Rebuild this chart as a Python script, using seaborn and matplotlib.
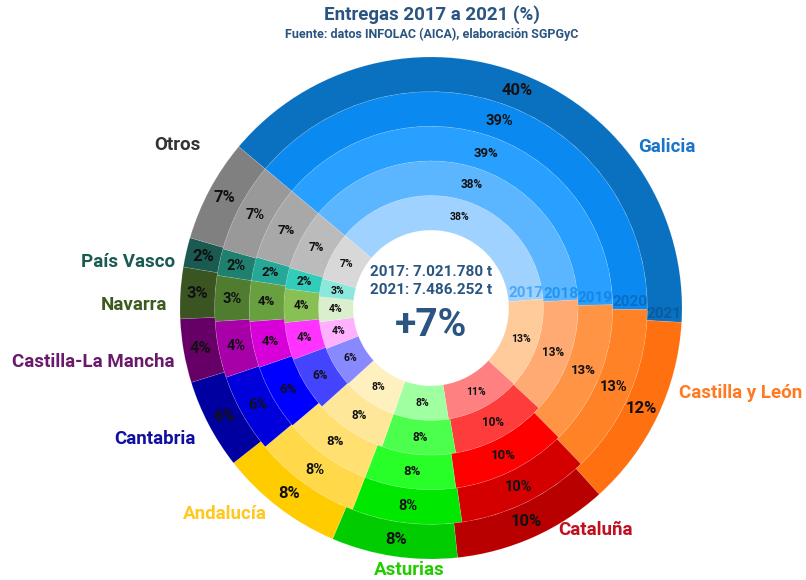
import numpy as np
import matplotlib
matplotlib.use("Agg")
import matplotlib.pyplot as plt
import seaborn as sns

# datos: cuota (%) de entregas por comunidad, anillos 2017 (interior) a 2021 (exterior)
years = ["2017", "2018", "2019", "2020", "2021"]
regions = ["Galicia", "Castilla y León", "Cataluña", "Asturias", "Andalucía",
           "Cantabria", "Castilla-La Mancha", "Navarra", "País Vasco", "Otros"]
share_2017 = [37.6, 13.1, 10.7, 7.9, 7.8, 5.9, 3.9, 3.6, 2.6, 6.9]
share_2018 = [38.0, 12.8, 10.4, 8.1, 7.9, 6.0, 4.1, 3.7, 2.3, 6.7]
share_2019 = [38.6, 12.9, 10.2, 8.1, 7.9, 5.9, 4.1, 3.6, 2.1, 6.6]
share_2020 = [39.0, 12.7, 9.9, 8.2, 8.0, 5.9, 4.2, 3.4, 2.0, 6.7]
share_2021 = [39.8, 12.4, 10.0, 8.1, 8.0, 5.8, 4.1, 3.3, 1.9, 6.6]
shares = [share_2017, share_2018, share_2019, share_2020, share_2021]
total_2017 = "7.021.780 t"
total_2021 = "7.486.252 t"
growth = "+7%"

# colores por comunidad (claro -> oscuro, del anillo interior al exterior)
shades = {
    "Galicia": ["#A0D2FF", "#5CB6FF", "#28A0FF", "#0A8AF0", "#0A70C0"],
    "Castilla y León": ["#FFCB9A", "#FFAA72", "#FF9444", "#FF8226", "#FF7010"],
    "Cataluña": ["#FF8080", "#FF3C3C", "#FF0000", "#D40000", "#B80000"],
    "Asturias": ["#A0FFA0", "#4CFF4C", "#28FF28", "#00E800", "#00CC00"],
    "Andalucía": ["#FFF0C0", "#FFE79A", "#FFE070", "#FFD94A", "#FFCC00"],
    "Cantabria": ["#8888FF", "#4444FF", "#0000FF", "#0000DC", "#0000A0"],
    "Castilla-La Mancha": ["#FFB0FF", "#FF33FF", "#D800D8", "#A800A8", "#660066"],
    "Navarra": ["#DCEFCC", "#88C055", "#68A040", "#507C30", "#3A5522"],
    "País Vasco": ["#8CE8DC", "#33CCB8", "#26A898", "#1F8070", "#1A5A50"],
    "Otros": ["#D8D8D8", "#BBBBBB", "#A8A8A8", "#999999", "#808080"],
}
label_colors = {
    "Galicia": "#1A75C8", "Castilla y León": "#FF7A20", "Cataluña": "#C01020",
    "Asturias": "#22CC00", "Andalucía": "#FFC820", "Cantabria": "#1010A0",
    "Castilla-La Mancha": "#6A1A6A", "Navarra": "#3D5A20", "País Vasco": "#1A5A50",
    "Otros": "#333333",
}
# posiciones de las etiquetas de comunidad (radio exterior = 1)
label_pos = {
    "Galicia": (0.94, 0.64), "Castilla y León": (1.235, -0.34), "Cataluña": (0.655, -0.885),
    "Asturias": (-0.085, -1.045), "Andalucía": (-0.82, -0.82), "Cantabria": (-1.10, -0.52),
    "Castilla-La Mancha": (-1.345, -0.215), "Navarra": (-1.185, 0.012),
    "País Vasco": (-1.205, 0.183), "Otros": (-1.01, 0.65),
}
year_label_colors = ["#4AA8F8", "#2096F0", "#1686E8", "#0A6CC4", "#0A5AA0"]

sns.set_theme(style="white")
font = ["Roboto", "DejaVu Sans"]
plt.rcParams["font.family"] = font
plt.rcParams["font.weight"] = "bold"
title_color = "#2A5580"

fig = plt.figure(figsize=(8.06, 5.80), dpi=100)
ax = fig.add_axes([0, 0, 1, 1])

inner = 0.31
width = (1 - inner) / len(years)
start = 140
pct_sizes = [7.5, 8.5, 9.5, 10.5, 12]

for i, vals in enumerate(shares):
    r_out = inner + width * (i + 1)
    r_mid = r_out - width / 2
    cols = [shades[reg][i] for reg in regions]
    ax.pie(vals, radius=r_out, colors=cols, startangle=start, counterclock=False,
           wedgeprops=dict(width=width, edgecolor=(1, 1, 1, 0.15), linewidth=0.5),
           autopct=lambda p: f"{p:.0f}%", pctdistance=r_mid / r_out,
           textprops=dict(fontsize=pct_sizes[i], fontweight="bold", color="#111111"))
    # etiqueta del año en el borde final de Galicia
    ang = np.deg2rad(start - 360 * vals[0] / sum(vals))
    ax.text(r_mid * np.cos(ang), r_mid * np.sin(ang), years[i], ha="center", va="bottom",
            fontsize=11, fontweight="bold", color=year_label_colors[i])

for reg in regions:
    x, y = label_pos[reg]
    ax.text(x, y, reg, ha="center", va="center", fontsize=13.5, fontweight="bold",
            color=label_colors[reg])

ax.text(0, 0.145, f"2017: {total_2017}", ha="center", va="center", fontsize=11,
        fontweight="bold", color=title_color)
ax.text(0, 0.072, f"2021: {total_2021}", ha="center", va="center", fontsize=11,
        fontweight="bold", color=title_color)
ax.text(0, -0.07, growth, ha="center", va="center", fontsize=28, fontweight="bold",
        color=title_color)

fig.text(432 / 806, 1 - 15 / 580, "Entregas 2017 a 2021 (%)", ha="center", va="center",
         fontsize=13.5, fontweight="bold", color=title_color)
fig.text(432 / 806, 1 - 34 / 580, "Fuente: datos INFOLAC (AICA), elaboración SGPGyC",
         ha="center", va="center", fontsize=9, fontweight="bold", color=title_color)

ax.set_xlim(-431 / 251, (806 - 431) / 251)
ax.set_ylim((308 - 580) / 251, 308 / 251)
ax.set_aspect("auto")
ax.axis("off")

fig.savefig("out.png", dpi=100)
